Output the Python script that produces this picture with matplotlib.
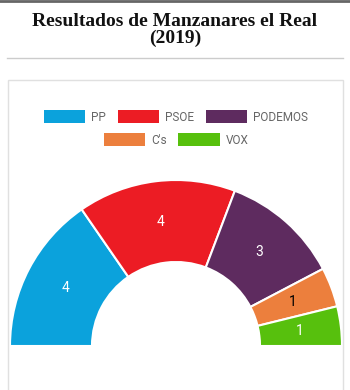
import matplotlib
matplotlib.use("Agg")
from matplotlib import pyplot as plt
from matplotlib.patches import Rectangle
from matplotlib.lines import Line2D

# Datos
partidos = ["PP", "PSOE", "PODEMOS", "C's", "VOX"]
concejales = [4, 4, 3, 1, 1]
colores = ["#0ba2dc", "#ec1c24", "#5e2b5f", "#ec7f3d", "#57c00d"]
color_etiqueta = ["white", "white", "white", "black", "white"]

titulo = "Resultados de Manzanares el Real\n(2019)"

W, H = 350, 390
fig = plt.figure(figsize=(W / 100, H / 100), dpi=100)
fig.patch.set_facecolor("white")

# ejes en pixeles (y hacia arriba)
ax = fig.add_axes([0, 0, 1, 1])

total = sum(concejales)
valores = concejales + [total]
wedges, textos = ax.pie(
    valores,
    labels=[str(v) for v in concejales] + [""],
    colors=colores + ["white"],
    startangle=180,
    counterclock=False,
    center=(176, H - 346),
    radius=166,
    labeldistance=125 / 166,
    wedgeprops=dict(width=82, edgecolor="white", linewidth=1.5),
    textprops=dict(fontsize=10, family="Roboto"),
)
wedges[-1].set_visible(False)
for t, c in zip(textos, color_etiqueta + ["white"]):
    t.set_color(c)
    t.set_ha("center")
    t.set_va("center")

ax.set_xlim(0, W)
ax.set_ylim(0, H)
ax.set_aspect("auto")
ax.axis("off")

# marco y lineas
ax.add_line(Line2D([0, W], [H - 0.5, H - 0.5], color="#666666", lw=2))
ax.add_line(Line2D([7, 343], [H - 58, H - 58], color="#cccccc", lw=1))
ax.add_patch(Rectangle((7.5, -5), 335, H - 80 + 5, fill=False,
                       edgecolor="#e0e0e0", lw=1))

# titulo
fig.text(0.5, 1 - 30 / H, titulo, ha="center", va="center",
         fontsize=14, fontweight="bold", family="Liberation Serif",
         linespacing=0.95, color="#111111")

# leyenda
estilo = dict(ncol=3, loc="center", frameon=False,
              prop=dict(family="Roboto", size=8.5), labelcolor="#666666",
              handlelength=3.5, handleheight=1.2, handletextpad=0.5,
              columnspacing=1.0)
ley1 = ax.legend(wedges[:3], partidos[:3],
                 bbox_to_anchor=(176 / W, 1 - 117 / H), **estilo)
ax.add_artist(ley1)
estilo["ncol"] = 2
ley2 = ax.legend(wedges[3:5], partidos[3:5],
                 bbox_to_anchor=(176 / W, 1 - 140 / H), **estilo)
for h in ley1.legend_handles + ley2.legend_handles:
    h.set_linewidth(0)

fig.savefig("out.png", dpi=100)
